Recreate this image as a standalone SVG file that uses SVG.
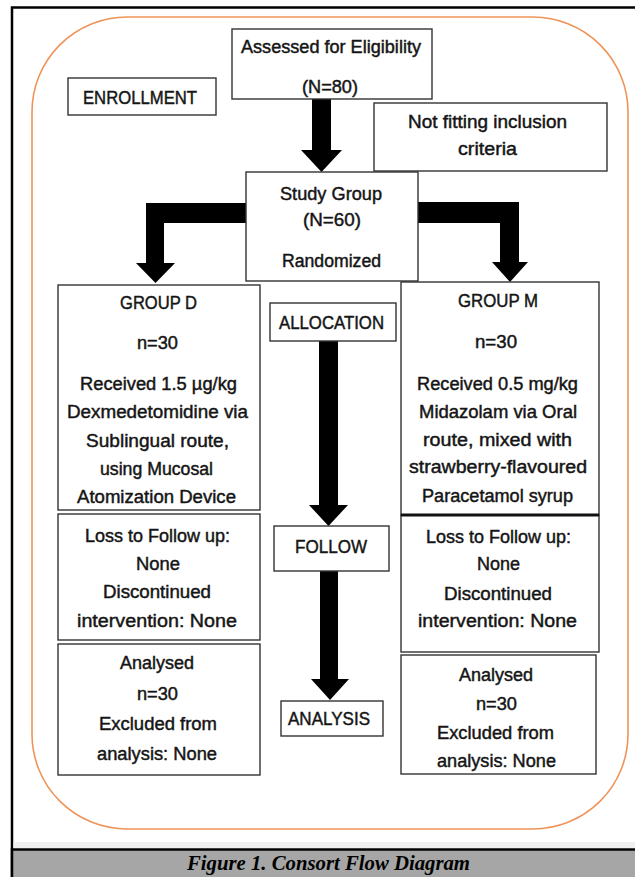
<svg xmlns="http://www.w3.org/2000/svg" width="635" height="877" viewBox="0 0 635 877">
<style>
.box{fill:#fff;stroke:#333;stroke-width:1.4}
.t{font-family:"Liberation Sans",Arial,sans-serif;font-size:18px;fill:#151515;stroke:#151515;stroke-width:0.45}
.arrow{fill:#000}
.cap{font-family:"Liberation Serif","Times New Roman",serif;font-size:21px;font-weight:bold;font-style:italic;fill:#000}
</style>
<rect x="0" y="0" width="635" height="877" fill="#fff"/>
<!-- frame -->
<rect x="12" y="7.5" width="640" height="880" fill="#fff" stroke="#000" stroke-width="2.5"/>
<rect x="13.5" y="842" width="625" height="6" fill="#efefef"/>
<rect x="12" y="849.5" width="640" height="40" fill="#a6a6a6" stroke="#000" stroke-width="2.5"/>
<text class="cap" x="187" y="870" textLength="283" lengthAdjust="spacingAndGlyphs">Figure 1. Consort Flow Diagram</text>
<rect x="32" y="17" width="596" height="812" rx="95" ry="95" fill="none" stroke="#ee9458" stroke-width="1.6"/>

<g id="connectors">
<polygon class="arrow" points="312,99 331,99 331,150 342,150 321.5,172 301,150 312,150"/>
<polygon class="arrow" points="246,203 146,203 146,263 136,263 155.5,283 175,263 164,263 164,223 246,223"/>
<polygon class="arrow" points="418,202 519,202 519,262 528,262 510,282 492,262 500,262 500,223 418,223"/>
<polygon class="arrow" points="319,341 338,341 338,505 348,505 328.5,526 309,505 319,505"/>
<polygon class="arrow" points="320,571 338,571 338,679 349,679 330,700 311,679 320,679"/>
</g>

<g id="enrollment">
<rect class="box" x="68" y="78" width="148" height="37"/>
<text class="t" x="83" y="104" textLength="114" lengthAdjust="spacingAndGlyphs">ENROLLMENT</text>
</g>
<g id="assessed">
<rect class="box" x="232" y="29" width="200" height="70"/>
<text class="t" x="241" y="53" textLength="180" lengthAdjust="spacingAndGlyphs">Assessed for Eligibility</text>
<text class="t" x="302" y="93" textLength="56" lengthAdjust="spacingAndGlyphs">(N=80)</text>
</g>
<g id="not-fitting">
<rect class="box" x="374" y="103" width="233" height="68"/>
<text class="t" x="408" y="128" textLength="159" lengthAdjust="spacingAndGlyphs">Not fitting inclusion</text>
<text class="t" x="458" y="155" textLength="59" lengthAdjust="spacingAndGlyphs">criteria</text>
</g>
<g id="study-group">
<rect class="box" x="246" y="172" width="172" height="109"/>
<text class="t" x="280" y="200" textLength="102" lengthAdjust="spacingAndGlyphs">Study Group</text>
<text class="t" x="303" y="226" textLength="58" lengthAdjust="spacingAndGlyphs">(N=60)</text>
<text class="t" x="282" y="267" textLength="99" lengthAdjust="spacingAndGlyphs">Randomized</text>
</g>
<g id="group-d">
<rect class="box" x="58" y="285" width="202" height="225"/>
<text class="t" x="120" y="309" textLength="77" lengthAdjust="spacingAndGlyphs">GROUP D</text>
<text class="t" x="137" y="349" textLength="41" lengthAdjust="spacingAndGlyphs">n=30</text>
<text class="t" x="80" y="390" textLength="157" lengthAdjust="spacingAndGlyphs">Received 1.5 µg/kg</text>
<text class="t" x="67" y="418" textLength="181" lengthAdjust="spacingAndGlyphs">Dexmedetomidine via</text>
<text class="t" x="86" y="447" textLength="143" lengthAdjust="spacingAndGlyphs">Sublingual  route,</text>
<text class="t" x="100" y="475" textLength="113" lengthAdjust="spacingAndGlyphs">using Mucosal</text>
<text class="t" x="77" y="503" textLength="159" lengthAdjust="spacingAndGlyphs">Atomization Device</text>
</g>
<g id="loss-d">
<rect class="box" x="58" y="514" width="202" height="126"/>
<text class="t" x="85" y="542" textLength="145" lengthAdjust="spacingAndGlyphs">Loss to Follow up:</text>
<text class="t" x="136" y="570" textLength="44" lengthAdjust="spacingAndGlyphs">None</text>
<text class="t" x="103" y="598" textLength="108" lengthAdjust="spacingAndGlyphs">Discontinued</text>
<text class="t" x="77" y="627" textLength="160" lengthAdjust="spacingAndGlyphs">intervention: None</text>
</g>
<g id="analysed-d">
<rect class="box" x="58" y="644" width="202" height="131"/>
<text class="t" x="120" y="669" textLength="74" lengthAdjust="spacingAndGlyphs">Analysed</text>
<text class="t" x="137" y="700" textLength="41" lengthAdjust="spacingAndGlyphs">n=30</text>
<text class="t" x="99" y="730" textLength="118" lengthAdjust="spacingAndGlyphs">Excluded from</text>
<text class="t" x="97" y="760" textLength="120" lengthAdjust="spacingAndGlyphs">analysis:  None</text>
</g>
<g id="group-m">
<rect class="box" x="401" y="282" width="198" height="233"/>
<text class="t" x="458" y="307" textLength="80" lengthAdjust="spacingAndGlyphs">GROUP M</text>
<text class="t" x="475" y="348" textLength="42" lengthAdjust="spacingAndGlyphs">n=30</text>
<text class="t" x="417" y="390" textLength="161" lengthAdjust="spacingAndGlyphs">Received 0.5 mg/kg</text>
<text class="t" x="419" y="418" textLength="158" lengthAdjust="spacingAndGlyphs">Midazolam  via Oral</text>
<text class="t" x="423" y="446" textLength="149" lengthAdjust="spacingAndGlyphs">route, mixed with</text>
<text class="t" x="409" y="473" textLength="178" lengthAdjust="spacingAndGlyphs">strawberry-flavoured</text>
<text class="t" x="422" y="502" textLength="151" lengthAdjust="spacingAndGlyphs">Paracetamol syrup</text>
</g>
<g id="loss-m">
<rect class="box" x="401" y="515" width="198" height="137"/>
<line x1="401" y1="515" x2="599" y2="515" stroke="#111" stroke-width="3"/>
<text class="t" x="426" y="543" textLength="145" lengthAdjust="spacingAndGlyphs">Loss to Follow up:</text>
<text class="t" x="477" y="570" textLength="43" lengthAdjust="spacingAndGlyphs">None</text>
<text class="t" x="444" y="600" textLength="108" lengthAdjust="spacingAndGlyphs">Discontinued</text>
<text class="t" x="418" y="627" textLength="159" lengthAdjust="spacingAndGlyphs">intervention: None</text>
</g>
<g id="analysed-m">
<rect class="box" x="401" y="655" width="195" height="119"/>
<text class="t" x="459" y="681" textLength="74" lengthAdjust="spacingAndGlyphs">Analysed</text>
<text class="t" x="476" y="710" textLength="41" lengthAdjust="spacingAndGlyphs">n=30</text>
<text class="t" x="437" y="739" textLength="117" lengthAdjust="spacingAndGlyphs">Excluded from</text>
<text class="t" x="437" y="767" textLength="119" lengthAdjust="spacingAndGlyphs">analysis:  None</text>
</g>
<g id="allocation">
<rect class="box" x="270" y="303" width="126" height="38"/>
<text class="t" x="279" y="329" textLength="105" lengthAdjust="spacingAndGlyphs">ALLOCATION</text>
</g>
<g id="follow">
<rect class="box" x="274" y="526" width="115" height="45"/>
<text class="t" x="295" y="553" textLength="72" lengthAdjust="spacingAndGlyphs">FOLLOW</text>
</g>
<g id="analysis">
<rect class="box" x="281" y="701" width="102" height="35"/>
<text class="t" x="288" y="725" textLength="82" lengthAdjust="spacingAndGlyphs">ANALYSIS</text>
</g>
</svg>
